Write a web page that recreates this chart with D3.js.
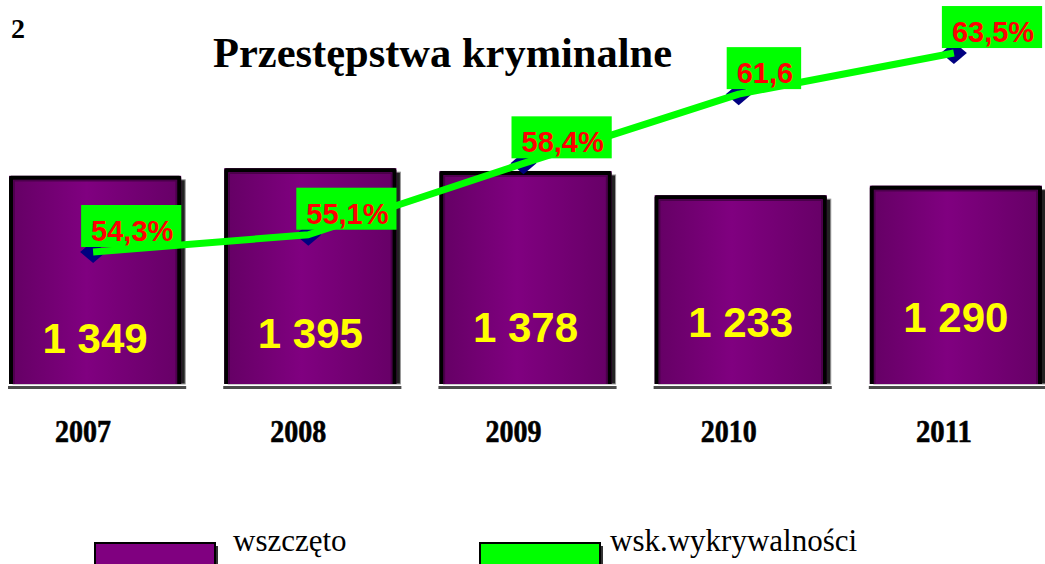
<!DOCTYPE html>
<html><head><meta charset="utf-8">
<script src="https://cdn.jsdelivr.net/npm/d3@7"></script>
<style>html,body{margin:0;padding:0;background:#fff;overflow:hidden}</style>
</head><body>
<script>
const years = ["2007","2008","2009","2010","2011"];
const cases = [1349, 1395, 1378, 1233, 1290];
const caseLabels = ["1 349","1 395","1 378","1 233","1 290"];
const rate = [54.3, 55.1, 58.4, 61.6, 63.5];
const rateLabels = ["54,3%","55,1%","58,4%","61,6","63,5%"];
const titleText = "Przestępstwa kryminalne";
const legendNames = ["wszczęto","wsk.wykrywalności"];

const W = 1045, H = 564;
const svg = d3.select("body").append("svg").attr("width", W).attr("height", H)
  .style("font-family","'Liberation Serif','Times New Roman',serif");
svg.append("rect").attr("width",W).attr("height",H).attr("fill","#fff");

const defs = svg.append("defs");
const grad = defs.append("linearGradient").attr("id","barGrad").attr("x1","0").attr("x2","1").attr("y1","0").attr("y2","0");
grad.append("stop").attr("offset","0").attr("stop-color","#640064");
grad.append("stop").attr("offset","0.45").attr("stop-color","#800080");
grad.append("stop").attr("offset","1").attr("stop-color","#660066");

const x = d3.scaleBand().domain(years).range([-34, 1085]).paddingInner(0.2).paddingOuter(0.2);
const yBar = d3.scaleLinear().domain([100, 1400]).range([384, 167.3]);
const yPct = d3.scaleLinear().domain([50, 65]).range([345, 20.6]);
const base = yBar.range()[0];
const bw = x.bandwidth();

// title
svg.append("text").attr("x", 213).attr("y", 67).attr("font-size", 42).attr("font-weight","bold")
  .attr("textLength", 459).attr("lengthAdjust","spacingAndGlyphs").text(titleText);
svg.append("text").attr("x", 11).attr("y", 38).attr("font-size", 28).attr("font-weight","bold").text("2");

// bars
const g = svg.append("g");
years.forEach((yr, i) => {
  const bx = x(yr), top = yBar(cases[i]);
  g.append("rect").attr("x", bx - 1).attr("y", base + 2).attr("width", bw + 6).attr("height", 3).attr("fill", "#4a4a4a");
  g.append("rect").attr("x", bx + 4).attr("y", top + 4).attr("width", bw).attr("height", base - top - 4)
    .attr("fill", "#222").attr("stroke", "#999").attr("stroke-width", 1);
  g.append("rect").attr("x", bx).attr("y", top).attr("width", bw).attr("height", base - top)
    .attr("fill", "url(#barGrad)");
  g.append("path").attr("d", `M${bx+2},${base}V${top+2}H${bx+bw-2}V${base}`)
    .attr("fill","none").attr("stroke","#000").attr("stroke-width",4).attr("stroke-linejoin","round");
  g.append("path").attr("d", `M${bx+5},${base}V${top+5}H${bx+bw-5}V${base}`)
    .attr("fill","none").attr("stroke","#4a004a").attr("stroke-width",1.5);
  g.append("text").attr("x", bx + bw/2).attr("y", base - 31 - 5.3*i)
    .attr("text-anchor","middle").attr("font-family","'Liberation Sans',Arial,sans-serif")
    .attr("font-weight","bold").attr("font-size", 42).attr("fill", "#ffff00").text(caseLabels[i]);
});

// year labels
const yl = svg.append("g");
years.forEach((yr, i) => {
  const cx = x(yr) + bw/2 - 12;
  yl.append("text").attr("x", cx).attr("y", 442).attr("text-anchor","middle")
    .attr("font-size", 32).attr("font-weight","bold").attr("textLength", 56).attr("lengthAdjust","spacingAndGlyphs")
    .attr("stroke","#000").attr("stroke-width",0.6).text(yr);
});

// line series
const px = i => x(years[i]) + bw/2 - 2;
const diam = svg.append("g");
rate.forEach((v, i) => {
  const cx = px(i), cy = yPct(v);
  diam.append("path").attr("d", `M${cx},${cy-11}L${cx+13},${cy}L${cx},${cy+11}L${cx-13},${cy}Z`).attr("fill","#000080");
});
svg.append("path").datum(rate)
  .attr("d", d3.line().x((d,i) => px(i)).y(d => yPct(d)))
  .attr("fill","none").attr("stroke","#00ff00").attr("stroke-width",7).attr("stroke-linejoin","round");

const lab = svg.append("g");
rate.forEach((v, i) => {
  const cx = px(i), cy = yPct(v);
  const t = lab.append("text").attr("font-family","'Liberation Sans',Arial,sans-serif")
    .attr("font-weight","bold").attr("font-size",29).attr("fill","#ff0000").text(rateLabels[i]);
  const tw = t.node().getComputedTextLength();
  const left = cx - 12, topY = cy - 47;
  lab.insert("rect", "text").attr("x", left).attr("y", topY).attr("width", tw + 18).attr("height", 42).attr("fill","#00ff00");
  t.attr("x", left + 10).attr("y", topY + 36);
});

// legend
const leg = svg.append("g");
const legItems = [{c:"#800080", x:95, tx:233}, {c:"#00ff00", x:480, tx:610}];
legItems.forEach((it, i) => {
  leg.append("rect").attr("x", it.x + 3).attr("y", 546).attr("width", 120).attr("height", 30).attr("fill","#333");
  leg.append("rect").attr("x", it.x).attr("y", 543).attr("width", 120).attr("height", 30)
    .attr("fill", it.c).attr("stroke","#000").attr("stroke-width",2);
  leg.append("text").attr("x", it.tx).attr("y", 551).attr("font-size", 31).text(legendNames[i]);
});
</script>
</body></html>
